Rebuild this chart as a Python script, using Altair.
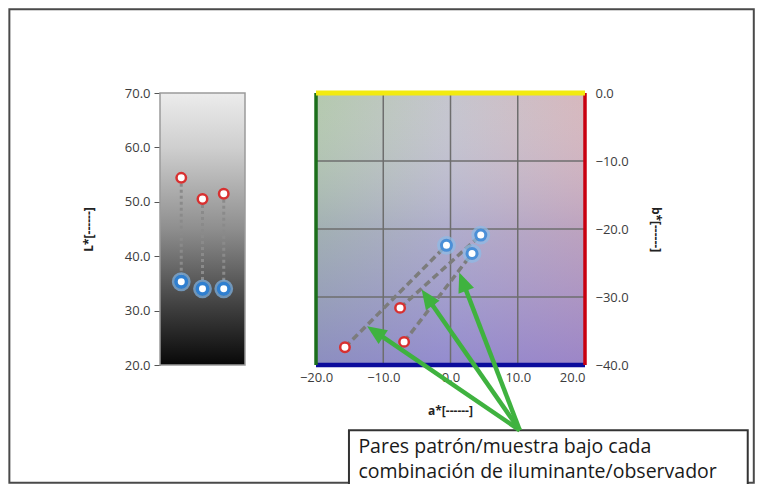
import math
import altair as alt
import pandas as pd

# ---------------- data ----------------
# Left panel: L* of each standard (blue) / sample (red) pair
L_COLS = [1, 2, 3]
L_RED = [54.4, 50.5, 51.5]
L_BLUE = [35.3, 34.0, 34.0]
L_TICKS = [20, 30, 40, 50, 60, 70]

# Right panel: a*, b* of each pair
RED_A = [-15.7, -7.5, -6.9]
RED_B = [-37.4, -31.6, -36.6]
BLUE_A = [-0.6, 4.5, 3.2]
BLUE_B = [-22.4, -20.9, -23.6]
A_TICKS = [-20, -10, 0, 10, 20]
B_TICKS = [0, -10, -20, -30, -40]
A_GRID = [-10, 0, 10]
B_GRID = [-10, -20, -30]

# Arrows (a*, b* units of the right panel): common origin and three tips
ARROW_ORIGIN = (10.3, -49.6)
ARROW_TIP_A = [-12.4, -4.3, 1.3]
ARROW_TIP_B = [-34.3, -28.9, -26.4]

NOTE_LINES = ["Pares patrón/muestra bajo cada",
              "combinación de iluminante/observador"]

# ---------------- layout ----------------
W, H = 425, 272
XL_DOM = [0, 20]
YL_DOM = [20, 70]
XR_DOM = [-43.2, 20]
YR_DOM = [-40, 0]
PX_X = W / (XR_DOM[1] - XR_DOM[0])
PX_Y = H / (YR_DOM[1] - YR_DOM[0])

FONT = "Open Sans"
LABEL_COLOR = "#3c3c3c"


def xl(f):
    return alt.X(f"{f}:Q", scale=alt.Scale(domain=XL_DOM, nice=False, zero=False), axis=None)


yl_axis = alt.Axis(values=L_TICKS, format=".1f", title="L*[------]", grid=False,
                   tickSize=6, tickColor="#555", domainColor="#555", labelPadding=4,
                   labelFontSize=13, labelColor=LABEL_COLOR, labelFont=FONT,
                   titleFont=FONT, titleFontSize=12, titleFontWeight="bold", titleColor="#222",
                   titleX=-72, titleY=H / 2, titleBaseline="middle", titleAngle=270)


def yl(f):
    return alt.Y(f"{f}:Q", scale=alt.Scale(domain=YL_DOM, nice=False, zero=False), axis=yl_axis)


xr_axis = alt.Axis(values=A_TICKS, format=".1f", title="a*[------]", grid=False,
                   ticks=False, domain=False, labelPadding=6, orient="bottom",
                   labelFontSize=13, labelColor=LABEL_COLOR, labelFont=FONT,
                   titleFont=FONT, titleFontSize=12, titleFontWeight="bold", titleColor="#222",
                   titleX=290, titleY=45, titleBaseline="middle")
yr_axis = alt.Axis(values=B_TICKS, format=".1f", title="b*[------]", grid=False,
                   ticks=False, domain=False, labelPadding=10, orient="right",
                   labelFontSize=13, labelColor=LABEL_COLOR, labelFont=FONT,
                   titleFont=FONT, titleFontSize=12, titleFontWeight="bold", titleColor="#222",
                   titleX=70, titleY=H / 2, titleBaseline="middle", titleAngle=90)


def xr(f):
    return alt.X(f"{f}:Q", scale=alt.Scale(domain=XR_DOM, nice=False, zero=False), axis=xr_axis)


def yr(f):
    return alt.Y(f"{f}:Q", scale=alt.Scale(domain=YR_DOM, nice=False, zero=False), axis=yr_axis)


# ---------------- left panel ----------------
lpanel = pd.DataFrame({"x1": [0], "x2": [4], "y1": [YL_DOM[0]], "y2": [YL_DOM[1]]})
ldf = pd.DataFrame({"col": L_COLS, "red": L_RED, "blue": L_BLUE})

l_grad = alt.Gradient(gradient="linear", x1=0, y1=0, x2=0, y2=1, stops=[
    alt.GradientStop(color="#ececec", offset=0),
    alt.GradientStop(color="#cfcfcf", offset=0.2),
    alt.GradientStop(color="#8e8e8e", offset=0.5),
    alt.GradientStop(color="#3c3c3c", offset=0.8),
    alt.GradientStop(color="#080808", offset=1)])

l_bg = alt.Chart(lpanel).mark_rect(fill=l_grad, stroke="#9a9a9a", strokeWidth=1.5).encode(
    x=xl("x1"), x2="x2", y=yl("y1"), y2="y2")
l_dash = alt.Chart(ldf).mark_rule(color="#8a8a8a", strokeWidth=3, strokeDash=[3, 3]).encode(
    x=xl("col"), y=yl("red"), y2="blue")
l_blue_glow = alt.Chart(ldf).mark_point(filled=False, stroke="#7fb4e6", strokeWidth=3,
                                        size=250, opacity=0.7).encode(x=xl("col"), y=yl("blue"))
l_blue = alt.Chart(ldf).mark_point(filled=True, fill="white", stroke="#2f7fd0", strokeWidth=3.5,
                                   size=110, opacity=1).encode(x=xl("col"), y=yl("blue"))
l_red = alt.Chart(ldf).mark_point(filled=True, fill="white", stroke="#d83030", strokeWidth=2.5,
                                  size=90, opacity=1).encode(x=xl("col"), y=yl("red"))
left = alt.layer(l_bg, l_dash, l_blue_glow, l_blue, l_red)

# ---------------- right panel ----------------
rpanel = pd.DataFrame({"x1": [A_TICKS[0]], "x2": [A_TICKS[-1]], "y1": [B_TICKS[-1]], "y2": [B_TICKS[0]]})
pairs = pd.DataFrame({"ra": RED_A, "rb": RED_B, "ba": BLUE_A, "bb": BLUE_B})

h_grad = alt.Gradient(gradient="linear", x1=0, y1=0, x2=1, y2=0, stops=[
    alt.GradientStop(color="#b0c6aa", offset=0),
    alt.GradientStop(color="#c2c2cc", offset=0.5),
    alt.GradientStop(color="#d4b4ba", offset=1)])
v_grad = alt.Gradient(gradient="linear", x1=0, y1=0, x2=0, y2=1, stops=[
    alt.GradientStop(color="rgba(255,255,255,0.05)", offset=0),
    alt.GradientStop(color="rgba(120,110,205,0.25)", offset=0.5),
    alt.GradientStop(color="rgba(110,95,210,0.55)", offset=1)])

r_bg = alt.Chart(rpanel).mark_rect(fill=h_grad).encode(x=xr("x1"), x2="x2", y=yr("y1"), y2="y2")
r_ov = alt.Chart(rpanel).mark_rect(fill=v_grad).encode(x=xr("x1"), x2="x2", y=yr("y1"), y2="y2")

vgrid = pd.DataFrame({"a": A_GRID})
hgrid = pd.DataFrame({"b": B_GRID})
r_vg = alt.Chart(vgrid).mark_rule(color="#6e6e6e", strokeWidth=1.5).encode(
    x=xr("a"), y=alt.datum(B_TICKS[-1]), y2=alt.datum(B_TICKS[0]))
r_hg = alt.Chart(hgrid).mark_rule(color="#6e6e6e", strokeWidth=1.5).encode(
    y=yr("b"), x=alt.datum(A_TICKS[0]), x2=alt.datum(A_TICKS[-1]))

r_left = alt.Chart(rpanel).mark_rule(color="#1b6e1b", strokeWidth=3.5).encode(
    x=xr("x1"), y=yr("y1"), y2="y2")
r_right = alt.Chart(rpanel).mark_rule(color="#c80010", strokeWidth=3.5).encode(
    x=xr("x2"), y=yr("y1"), y2="y2")
r_top = alt.Chart(rpanel).mark_rule(color="#f2ea10", strokeWidth=5).encode(
    y=yr("y2"), x=xr("x1"), x2="x2")
r_bottom = alt.Chart(rpanel).mark_rule(color="#0c0c9c", strokeWidth=4.5).encode(
    y=yr("y1"), x=xr("x1"), x2="x2")

r_dash = alt.Chart(pairs).mark_rule(color="#7c7c7c", strokeWidth=3.5, strokeDash=[7, 4]).encode(
    x=xr("ra"), y=yr("rb"), x2="ba", y2="bb")
r_blue_glow = alt.Chart(pairs).mark_point(filled=False, stroke="#8dbce8", strokeWidth=3,
                                          size=250, opacity=0.7).encode(x=xr("ba"), y=yr("bb"))
r_blue = alt.Chart(pairs).mark_point(filled=True, fill="white", stroke="#4a90d8", strokeWidth=3,
                                     size=100, opacity=1).encode(x=xr("ba"), y=yr("bb"))
r_red = alt.Chart(pairs).mark_point(filled=True, fill="white", stroke="#d83030", strokeWidth=2.5,
                                    size=90, opacity=1).encode(x=xr("ra"), y=yr("rb"))

# outer frame and note box (decorations, in the right panel's units)
frame = pd.DataFrame({"x1": [-65.6], "x2": [45.1], "y1": [12.3], "y2": [-57.3]})
r_frame = alt.Chart(frame).mark_rect(fillOpacity=0, stroke="#4a4a4a", strokeWidth=2).encode(
    x=xr("x1"), x2="x2", y=yr("y1"), y2="y2")
nbox = pd.DataFrame({"x1": [-15.1], "x2": [44.2], "y1": [-49.6], "y2": [-62.0]})
r_nbox = alt.Chart(nbox).mark_rect(fill="white", stroke="#333333", strokeWidth=2).encode(
    x=xr("x1"), x2="x2", y=yr("y1"), y2="y2")
note = pd.DataFrame({"t": NOTE_LINES, "a": [-13.7, -13.7], "b": [-52.9, -56.6]})
r_note = alt.Chart(note).mark_text(align="left", baseline="alphabetic", font=FONT, fontSize=19.5,
                                   color="#1a1a1a").encode(x=xr("a"), y=yr("b"), text="t")

# arrows
rows = []
for ta, tb in zip(ARROW_TIP_A, ARROW_TIP_B):
    dx = (ta - ARROW_ORIGIN[0]) * PX_X
    dy = -(tb - ARROW_ORIGIN[1]) * PX_Y
    ln = math.hypot(dx, dy)
    ux, uy = dx / ln, dy / ln
    ang = math.degrees(math.atan2(dx, -dy)) % 360
    rows.append({"oa": ARROW_ORIGIN[0], "ob": ARROW_ORIGIN[1], "ta": ta, "tb": tb,
                 "ea": ta - ux * 14 / PX_X, "eb": tb + uy * 14 / PX_Y, "ang": ang})
arrows = pd.DataFrame(rows)
GREEN = "#3fb23f"
r_ashaft = alt.Chart(arrows).mark_rule(color=GREEN, strokeWidth=4.5).encode(
    x=xr("oa"), y=yr("ob"), x2="ea", y2="eb")
r_ahead = alt.Chart(arrows).mark_point(shape="M0,0L-0.85,2L0.85,2Z", filled=True, fill=GREEN,
                                       size=380, opacity=1, strokeWidth=0).encode(
    x=xr("ta"), y=yr("tb"), angle=alt.Angle("ang:Q", scale=None))

right = alt.layer(r_frame, r_bg, r_ov, r_vg, r_hg, r_bottom, r_left, r_right, r_top,
                  r_dash, r_blue_glow, r_blue, r_red, r_nbox, r_note, r_ashaft, r_ahead)

chart = alt.layer(left, right).resolve_scale(x="independent", y="independent").properties(
    width=W, height=H,
    padding={"left": 152, "top": 85, "right": 170, "bottom": 119},
    autosize=alt.AutoSizeParams(type="none"),
    background="white",
).configure_view(stroke=None)

chart.save("out.html", embed_options={"renderer": "svg", "actions": False})
